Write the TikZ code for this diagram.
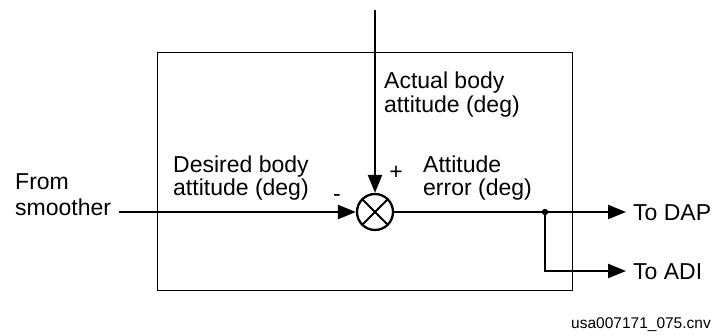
\documentclass[tikz,border=0pt]{standalone}
\usepackage{fontspec}
\setmainfont{Liberation Sans}
\usetikzlibrary{arrows.meta}
\begin{document}
\begin{tikzpicture}[x=1pt,y=-1pt,
  lbl/.style={anchor=base west,inner sep=0pt,font=\fontsize{23}{24}\selectfont},
  sig/.style={line width=2.3pt},
  arr/.style={sig,-{Triangle[length=18pt,width=14pt]}},
  sumnode/.style={circle,draw,line width=2.3pt,minimum size=36pt,inner sep=0pt,
    path picture={\draw[line width=2pt] (path picture bounding box.north west)--(path picture bounding box.south east)
      (path picture bounding box.north east)--(path picture bounding box.south west);}}]
\useasboundingbox (0,0) rectangle (714,335);
\node[draw,line width=1.1pt,minimum width=415pt,minimum height=238pt,inner sep=0pt,anchor=north west] (box) at (157,52) {};
\node[sumnode] (sum) at (375,212) {};
\coordinate (top) at (375,10);
\coordinate (src) at (119,212);
\coordinate (junc) at (545,212);
\coordinate (dap) at (626,212);
\coordinate (adi) at (626,271);
\draw[arr] (top) -- (sum.north);
\draw[arr] (src) -- (sum.west);
\draw[sig] (sum.east) -- (junc);
\draw[arr] (junc) -- (dap);
\draw[arr] (junc) |- (adi);
\fill (junc) circle (3.2pt);
\node[lbl] (from1) at (15,189) {From};
\node[lbl] (from2) at (15,215) {smoother};
\node[lbl] (act1) at (384,88) {Actual body};
\node[lbl] (act2) at (384,112) {attitude (deg)};
\node[lbl] (des1) at (173,172) {Desired body};
\node[lbl] (des2) at (173,195) {attitude (deg)};
\node[lbl] (err1) at (423,172) {Attitude};
\node[lbl] (err2) at (423,195) {error (deg)};
\node[inner sep=0pt,font=\fontsize{23}{24}\selectfont] (minus) at (337,198) {-};
\node[inner sep=0pt,font=\fontsize{23}{24}\selectfont] (plus) at (396,173) {+};
\node[lbl] (todap) at (633,220) {To DAP};
\node[lbl] (toadi) at (633,279) {To ADI};
\node[anchor=base east,inner sep=0pt,font=\fontsize{15.5}{16}\selectfont] (cap) at (711,328) {usa007171\_075.cnv};
\end{tikzpicture}
\end{document}
